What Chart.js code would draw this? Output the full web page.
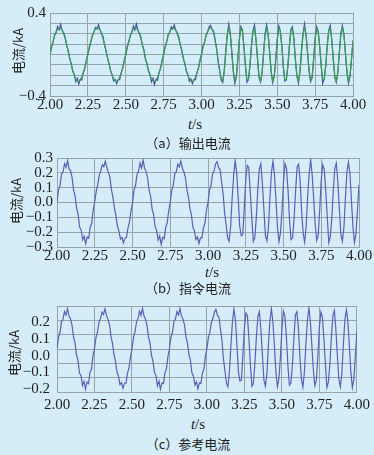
<!DOCTYPE html>
<html>
<head>
<meta charset="utf-8">
<script src="https://cdn.jsdelivr.net/npm/chart.js@4.4.1/dist/chart.umd.min.js"></script>
<style>
  body { margin: 0; background: #d5edf9; width: 374px; height: 455px; overflow: hidden; position: relative; }
  canvas { position: absolute; left: 0; }
  .txt { position: absolute; color: #222; white-space: nowrap; transform: translate(-50%, -50%); }
  .ytitle { font: 13px "Noto Sans CJK SC"; transform: translate(-50%, -50%) rotate(-90deg); }
  .tlab { font: 15px "Liberation Serif"; }
  .cap { font: 13px "Noto Sans CJK SC"; }
</style>
</head>
<body>
<canvas id="chartA" width="374" height="115" style="top:0px"></canvas>
<canvas id="chartB" width="374" height="120" style="top:145px"></canvas>
<canvas id="chartC" width="374" height="125" style="top:290px"></canvas>

<div class="txt ytitle" style="left:17px; top:51px">电流/kA</div>
<div class="txt tlab" style="left:195px; top:124px"><i>t</i>/s</div>
<div class="txt cap" style="left:188px; top:142px">（a）输出电流</div>

<div class="txt ytitle" style="left:15px; top:201px">电流/kA</div>
<div class="txt tlab" style="left:212px; top:272px"><i>t</i>/s</div>
<div class="txt cap" style="left:188px; top:287px">（b）指令电流</div>

<div class="txt ytitle" style="left:13px; top:353px">电流/kA</div>
<div class="txt tlab" style="left:198px; top:424px"><i>t</i>/s</div>
<div class="txt cap" style="left:188px; top:443px">（c）参考电流</div>

<script>
// time base, s
const times = [
  2.00,2.01,2.02,2.03,2.04,2.05,2.06,2.07,2.08,2.09,
  2.10,2.11,2.12,2.13,2.14,2.15,2.16,2.17,2.18,2.19,
  2.20,2.21,2.22,2.23,2.24,2.25,2.26,2.27,2.28,2.29,
  2.30,2.31,2.32,2.33,2.34,2.35,2.36,2.37,2.38,2.39,
  2.40,2.41,2.42,2.43,2.44,2.45,2.46,2.47,2.48,2.49,
  2.50,2.51,2.52,2.53,2.54,2.55,2.56,2.57,2.58,2.59,
  2.60,2.61,2.62,2.63,2.64,2.65,2.66,2.67,2.68,2.69,
  2.70,2.71,2.72,2.73,2.74,2.75,2.76,2.77,2.78,2.79,
  2.80,2.81,2.82,2.83,2.84,2.85,2.86,2.87,2.88,2.89,
  2.90,2.91,2.92,2.93,2.94,2.95,2.96,2.97,2.98,2.99,
  3.00,3.01,3.02,3.03,3.04,3.05,3.06,3.07,3.08,3.09,
  3.10,3.11,3.12,3.13,3.14,3.15,3.16,3.17,3.18,3.19,
  3.20,3.21,3.22,3.23,3.24,3.25,3.26,3.27,3.28,3.29,
  3.30,3.31,3.32,3.33,3.34,3.35,3.36,3.37,3.38,3.39,
  3.40,3.41,3.42,3.43,3.44,3.45,3.46,3.47,3.48,3.49,
  3.50,3.51,3.52,3.53,3.54,3.55,3.56,3.57,3.58,3.59,
  3.60,3.61,3.62,3.63,3.64,3.65,3.66,3.67,3.68,3.69,
  3.70,3.71,3.72,3.73,3.74,3.75,3.76,3.77,3.78,3.79,
  3.80,3.81,3.82,3.83,3.84,3.85,3.86,3.87,3.88,3.89,
  3.90,3.91,3.92,3.93,3.94,3.95,3.96,3.97,3.98,3.99,
  4.00
];

// (a) output current, kA (blue, with ripple)
const outputA = [
  0, .080, .118, .190, .210, .270, .238, .292, .232, .210, .170, .085, .040, -.042, -.085, -.165, -.190, -.262, -.230, -.285, -.236, -.245, -.168, -.135, -.055,
  .005, .075, .126, .182, .218, .262, .246, .288, .240, .202, .175, .092, .036, -.036, -.090, -.158, -.196, -.255, -.240, -.280, -.244, -.240, -.175, -.130, -.060,
  -.003, .084, .120, .186, .214, .274, .236, .295, .234, .206, .166, .088, .044, -.046, -.086, -.162, -.192, -.265, -.228, -.290, -.238, -.248, -.170, -.134, -.056,
  .004, .078, .122, .194, .212, .266, .244, .285, .236, .204, .172, .090, .042, -.040, -.084, -.164, -.194, -.258, -.236, -.282, -.242, -.242, -.172, -.136, -.054,
  .002, .082, .118, .188, .216, .268, .282,
  .240, .226, .138, .058, -.072, -.152, -.248,
  -.270, -.158, .032, .188, .292, .205, .028, -.162, -.280, -.218, -.038, .152, .270, .238, .072, -.108, -.268, -.242, -.098, .092, .228, .284, .132, -.042, -.225,
  -.265, -.178, .022, .205, .286, .192, .018, -.168, -.272, -.208, -.062, .142, .276, .230, .088, -.122, -.256, -.244, -.112, .078, .245, .270, .152, -.058, -.210,
  -.275, -.162, .042, .198, .296, .188, .022, -.152, -.262, -.224, -.048, .158, .268, .222, .078, -.102, -.278, -.232, -.108, .088, .236, .280, .140, -.048, -.220,
  -.270, -.172, .028, .208, .282, .198, .012, -.168, -.278, -.214, -.052, .125
];

// (a) smooth reference trace (green)
const smoothA = [
  0, .065, .125, .178, .219, .247, .259, .255, .235, .200, .153, .096, .033, -.033, -.096, -.153, -.200, -.235, -.255, -.259, -.247, -.219, -.178, -.125, -.065,
  0, .065, .125, .178, .219, .247, .259, .255, .235, .200, .153, .096, .033, -.033, -.096, -.153, -.200, -.235, -.255, -.259, -.247, -.219, -.178, -.125, -.065,
  0, .065, .125, .178, .219, .247, .259, .255, .235, .200, .153, .096, .033, -.033, -.096, -.153, -.200, -.235, -.255, -.259, -.247, -.219, -.178, -.125, -.065,
  0, .065, .125, .178, .219, .247, .259, .255, .235, .200, .153, .096, .033, -.033, -.096, -.153, -.200, -.235, -.255, -.259, -.247, -.219, -.178, -.125, -.065,
  0, .065, .125, .178, .219, .247, .259,
  .245, .205, .135, .045, -.065, -.160, -.230,
  -.258, -.166, .016, .190, .260, .190, .016, -.166, -.258, -.210, -.049, .139, .252, .228, .080, -.111, -.242, -.242, -.111, .080, .228, .252, .139, -.049, -.210,
  -.258, -.166, .016, .190, .260, .190, .016, -.166, -.258, -.210, -.049, .139, .252, .228, .080, -.111, -.242, -.242, -.111, .080, .228, .252, .139, -.049, -.210,
  -.258, -.166, .016, .190, .260, .190, .016, -.166, -.258, -.210, -.049, .139, .252, .228, .080, -.111, -.242, -.242, -.111, .080, .228, .252, .139, -.049, -.210,
  -.258, -.166, .016, .190, .260, .190, .016, -.166, -.258, -.210, -.049, .139
];

// (b) command current, kA
const commandB = [
  0, .085, .112, .192, .205, .262, .236, .283, .228, .214, .168, .082, .045, -.040, -.080, -.168, -.185, -.252, -.228, -.278, -.232, -.240, -.165, -.140, -.050,
  .004, .078, .120, .185, .214, .255, .242, .279, .236, .205, .172, .090, .038, -.035, -.088, -.160, -.192, -.246, -.236, -.272, -.240, -.236, -.172, -.132, -.058,
  -.002, .082, .116, .188, .210, .266, .232, .286, .230, .210, .165, .085, .042, -.044, -.084, -.164, -.188, -.255, -.225, -.283, -.235, -.244, -.168, -.136, -.054,
  .003, .080, .118, .195, .208, .258, .240, .280, .232, .208, .170, .088, .040, -.038, -.082, -.166, -.190, -.250, -.232, -.276, -.238, -.238, -.170, -.138, -.052,
  0, .084, .114, .190, .212, .260, .275,
  .235, .222, .140, .060, -.070, -.150, -.240,
  -.262, -.160, .030, .185, .282, .200, .030, -.160, -.225, -.215, -.040, .150, .250, .235, .070, -.105, -.262, -.238, -.100, .090, .225, .262, .130, -.040, -.220,
  -.258, -.175, .025, .200, .278, .190, .020, -.165, -.265, -.205, -.060, .140, .262, .228, .085, -.120, -.250, -.240, -.110, .075, .240, .258, .150, -.055, -.205,
  -.268, -.160, .040, .195, .288, .185, .025, -.150, -.255, -.220, -.045, .155, .255, .220, .075, -.100, -.270, -.230, -.105, .085, .232, .265, .138, -.045, -.215,
  -.262, -.170, .030, .205, .272, .195, .015, -.165, -.270, -.210, -.050, .120
];

// (c) reference current, kA
const referenceC = [
  .002, .082, .115, .190, .208, .260, .238, .281, .230, .212, .166, .084, .043, -.042, -.078, -.170, -.183, -.255, -.226, -.280, -.230, -.242, -.163, -.142, -.048,
  .002, .080, .118, .187, .212, .257, .240, .281, .234, .207, .170, .088, .040, -.037, -.086, -.162, -.190, -.248, -.234, -.274, -.238, -.238, -.170, -.134, -.056,
  0, .080, .118, .186, .212, .264, .234, .284, .232, .208, .167, .083, .044, -.042, -.086, -.162, -.186, -.257, -.223, -.281, -.237, -.242, -.166, -.138, -.052,
  .001, .082, .116, .193, .210, .260, .238, .282, .230, .210, .168, .086, .042, -.040, -.080, -.168, -.188, -.252, -.230, -.278, -.236, -.240, -.168, -.140, -.050,
  .002, .082, .116, .188, .214, .258, .277,
  .233, .224, .138, .062, -.068, -.152, -.238,
  -.264, -.158, .028, .187, .280, .202, .028, -.162, -.223, -.217, -.038, .148, .252, .233, .072, -.107, -.260, -.240, -.098, .088, .227, .260, .132, -.042, -.218,
  -.260, -.173, .027, .198, .280, .188, .022, -.163, -.263, -.207, -.058, .138, .264, .226, .087, -.118, -.252, -.238, -.112, .077, .238, .260, .148, -.053, -.207,
  -.266, -.162, .038, .197, .286, .187, .023, -.152, -.257, -.218, -.047, .153, .257, .222, .073, -.102, -.268, -.232, -.103, .083, .230, .267, .136, -.047, -.213,
  -.264, -.168, .032, .203, .274, .193, .017, -.163, -.268, -.212, -.048, .122
];

// ticks
const xTicks = [2.00, 2.25, 2.50, 2.75, 3.00, 3.25, 3.50, 3.75, 4.00];
const yGridA = [0.4, 0.3, 0.2, 0.1, 0, -0.1, -0.2, -0.3, -0.4];
const yLabelsA = [0.4, -0.4];
const yTicksB = [0.3, 0.2, 0.1, 0, -0.1, -0.2, -0.3];
const yLabelsC = [0.2, 0.1, 0, -0.1, -0.2];
const yGridC = [0.3, 0.2, 0.1, 0, -0.1, -0.2, -0.3];

const gridColor = '#96a3a9';
const textColor = '#222';
const tickFont = { family: 'Liberation Serif', size: 15 };

function fmt(v, d) {
    const s = Math.abs(v).toFixed(d);
    return v < -1e-9 ? '\u2212' + s : s;
}

function xAxis(pad, height) {
    return {
        type: 'linear',
        min: 2,
        max: 4,
        afterBuildTicks: (s) => { s.ticks = xTicks.map(v => ({ value: v })); },
        afterFit: (s) => { s.height = height; },
        ticks: { callback: v => v.toFixed(2), font: tickFont, color: textColor, padding: pad, maxRotation: 0, autoSkip: false },
        grid: { color: gridColor, lineWidth: 1, drawTicks: false },
        border: { color: gridColor }
    };
}

function line(data, color, axis) {
    return {
        data: data,
        borderColor: color,
        borderWidth: 1.2,
        pointRadius: 0,
        tension: 0,
        fill: false,
        yAxisID: axis || 'y'
    };
}

function baseOptions(padding, scales) {
    return {
        responsive: false,
        animation: false,
        events: [],
        layout: { padding: padding },
        plugins: { legend: { display: false }, tooltip: { enabled: false } },
        scales: scales
    };
}

// (a)
new Chart(document.getElementById('chartA'), {
    type: 'line',
    data: {
        labels: times,
        datasets: [line(smoothA, '#3c9f55'), line(outputA, '#4a50aa')]
    },
    options: baseOptions({ left: 0, right: 21, top: 7, bottom: 0 }, {
        x: xAxis(0, 19),
        y: {
            min: -0.4,
            max: 0.4,
            afterBuildTicks: (s) => { s.ticks = yGridA.map(v => ({ value: v })); },
            afterFit: (s) => { s.width = 50; },
            ticks: { callback: v => yLabelsA.includes(v) ? fmt(v, 1) : '', font: tickFont, color: textColor, padding: 4, autoSkip: false },
            grid: { color: gridColor, drawTicks: false },
            border: { color: gridColor }
        }
    })
});

// (b)
new Chart(document.getElementById('chartB'), {
    type: 'line',
    data: {
        labels: times,
        datasets: [line(commandB, '#5a60b6')]
    },
    options: baseOptions({ left: 0, right: 15, top: 13, bottom: 0 }, {
        x: xAxis(0, 18),
        y: {
            min: -0.3,
            max: 0.3,
            afterBuildTicks: (s) => { s.ticks = yTicksB.map(v => ({ value: v })); },
            afterFit: (s) => { s.width = 57; },
            ticks: { callback: v => fmt(v, 1), font: tickFont, color: textColor, padding: 4, autoSkip: false },
            grid: { color: gridColor, drawTicks: false },
            border: { color: gridColor }
        }
    })
});

// (c) labels sit on their own axis, grid lines on a second one
new Chart(document.getElementById('chartC'), {
    type: 'line',
    data: {
        labels: times,
        datasets: [line(referenceC, '#5a60b6', 'yg')]
    },
    options: baseOptions({ left: 0, right: 16, top: 13, bottom: 0 }, {
        x: xAxis(4, 23),
        y: {
            position: 'left',
            min: -0.22,
            max: 0.30,
            afterBuildTicks: (s) => { s.ticks = yLabelsC.map(v => ({ value: v })); },
            afterFit: (s) => { s.width = 57; },
            ticks: { callback: v => fmt(v, 1), font: tickFont, color: textColor, padding: 7, autoSkip: false },
            grid: { display: false, drawTicks: false },
            border: { display: false }
        },
        yg: {
            position: 'left',
            min: -0.3,
            max: 0.3,
            afterBuildTicks: (s) => { s.ticks = yGridC.map(v => ({ value: v })); },
            afterFit: (s) => { s.width = 0; },
            ticks: { display: false },
            grid: { color: gridColor, drawTicks: false },
            border: { display: false }
        }
    })
});
</script>
</body>
</html>
